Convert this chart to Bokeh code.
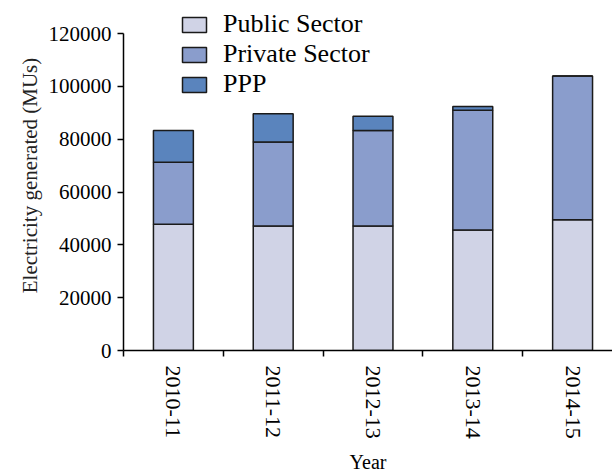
from bokeh.plotting import figure
from bokeh.models import Range1d, FixedTicker, Legend, LegendItem, ColumnDataSource, BasicTickFormatter
from bokeh.embed import file_html
from bokeh.resources import INLINE

years = ["2010-11", "2011-12", "2012-13", "2013-14", "2014-15"]
public = [47800, 47100, 47100, 45600, 49500]
private = [23500, 31800, 36200, 45300, 54400]
ppp = [12000, 10750, 5400, 1500, 0]
y_ticks = [0, 20000, 40000, 60000, 80000, 100000, 120000]
y_max = 120000

xs = [i + 0.5 for i in range(len(years))]
b1 = [0] * len(years)
t1 = public
t2 = [a + b for a, b in zip(public, private)]
t3 = [a + b for a, b in zip(t2, ppp)]

FONT = "Liberation Serif"
C_PUB = "#d0d3e6"
C_PRI = "#8a9dcc"
C_PPP = "#5a84bd"
EDGE = "#1a1a1a"

# frame spans the full top of the canvas so the legend is not clipped;
# the y axis itself is bounded to 0..120000
FRAME_H = 350
AXIS_H = 317
y_top = y_max * FRAME_H / AXIS_H

p = figure(width=612, height=475, output_backend="svg", toolbar_location=None,
           x_range=Range1d(0, 4.9), y_range=Range1d(0, y_top),
           min_border_left=123, min_border_top=0, min_border_right=0,
           min_border_bottom=125)
p.outline_line_color = None
p.grid.visible = False
p.background_fill_color = "white"
p.border_fill_color = "white"

src = ColumnDataSource(dict(x=xs, b1=b1, t1=t1, t2=t2, t3=t3))
r1 = p.vbar(x="x", width=0.4, bottom="b1", top="t1", source=src,
            fill_color=C_PUB, line_color=EDGE, line_width=1.5)
r2 = p.vbar(x="x", width=0.4, bottom="t1", top="t2", source=src,
            fill_color=C_PRI, line_color=EDGE, line_width=1.5)
r3 = p.vbar(x="x", width=0.4, bottom="t2", top="t3", source=src,
            fill_color=C_PPP, line_color=EDGE, line_width=1.5)

# x axis
xa = p.xaxis[0]
xa.ticker = FixedTicker(ticks=xs, minor_ticks=[0, 1, 2, 3, 4])
xa.major_label_overrides = {x: y for x, y in zip(xs, years)}
xa.major_label_orientation = "vertical"
xa.major_tick_out = 0
xa.major_tick_in = 0
xa.minor_tick_out = 6
xa.minor_tick_in = 0
xa.minor_tick_line_color = "black"
xa.minor_tick_line_width = 1.5
xa.axis_line_width = 1.5
xa.major_label_standoff = 9
xa.major_label_text_font = FONT
xa.major_label_text_font_size = "22px"
xa.major_label_text_color = "black"
xa.axis_label = "Year"
xa.axis_label_text_font = FONT
xa.axis_label_text_font_size = "20px"
xa.axis_label_text_font_style = "normal"
xa.axis_label_text_color = "black"
xa.axis_label_standoff = 9

# y axis
ya = p.yaxis[0]
ya.bounds = (0, y_max)
ya.ticker = FixedTicker(ticks=y_ticks, minor_ticks=[])
ya.formatter = BasicTickFormatter(use_scientific=False)
ya.major_tick_out = 6
ya.major_tick_in = 0
ya.major_tick_line_width = 1.5
ya.axis_line_width = 1.5
ya.major_label_standoff = 6
ya.major_label_text_font = FONT
ya.major_label_text_font_size = "21px"
ya.major_label_text_color = "black"
ya.axis_label = "Electricity generated (MUs)"
ya.axis_label_text_font = FONT
ya.axis_label_text_font_size = "21px"
ya.axis_label_text_font_style = "normal"
ya.axis_label_text_color = "#222222"
ya.axis_label_standoff = 4

legend = Legend(items=[LegendItem(label="Public Sector", renderers=[r1]),
                       LegendItem(label="Private Sector", renderers=[r2]),
                       LegendItem(label="PPP", renderers=[r3])],
                location=(56, 251), orientation="vertical")
legend.border_line_color = None
legend.background_fill_alpha = 0
legend.padding = 0
legend.margin = 0
legend.spacing = -2
legend.glyph_width = 30
legend.glyph_height = 19
legend.label_standoff = 14
legend.label_text_font = FONT
legend.label_text_font_size = "26px"
legend.label_text_line_height = 1.0
legend.label_text_color = "black"
legend.label_height = 28
p.add_layout(legend, "center")

open("out.html", "w").write(file_html(p, INLINE))
